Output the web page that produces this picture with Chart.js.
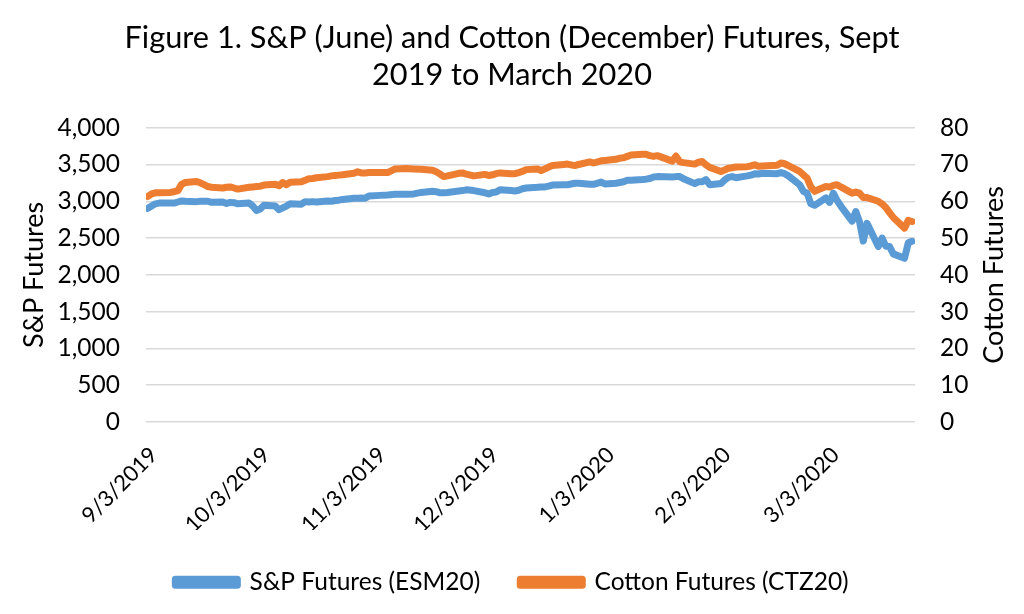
<!DOCTYPE html>
<html>
<head>
<meta charset="utf-8">
<title>S&amp;P and Cotton Futures</title>
<script src="https://cdn.jsdelivr.net/npm/chart.js@4.4.1/dist/chart.umd.min.js"></script>
<style>
  body { margin: 0; background: #fff; }
  #wrap { width: 1024px; height: 614px; }
</style>
</head>
<body>
<div id="wrap"><canvas id="chart" width="1024" height="614"></canvas></div>
<script>
// trading dates
const dates = [
  '9/3/2019','9/4/2019','9/5/2019','9/6/2019','9/9/2019','9/10/2019','9/11/2019','9/12/2019','9/13/2019',
  '9/16/2019','9/17/2019','9/18/2019','9/19/2019','9/20/2019','9/23/2019','9/24/2019','9/25/2019','9/26/2019',
  '9/27/2019','9/30/2019','10/1/2019','10/2/2019','10/3/2019','10/4/2019','10/7/2019','10/8/2019','10/9/2019',
  '10/10/2019','10/11/2019','10/14/2019','10/15/2019','10/16/2019','10/17/2019','10/18/2019','10/21/2019',
  '10/22/2019','10/23/2019','10/24/2019','10/25/2019','10/28/2019','10/29/2019','10/30/2019','10/31/2019',
  '11/1/2019','11/4/2019','11/6/2019','11/8/2019','11/11/2019','11/13/2019','11/15/2019','11/18/2019',
  '11/19/2019','11/20/2019','11/21/2019','11/22/2019','11/25/2019','11/26/2019','11/27/2019','11/29/2019',
  '12/2/2019','12/3/2019','12/4/2019','12/5/2019','12/6/2019','12/9/2019','12/10/2019','12/11/2019',
  '12/12/2019','12/13/2019','12/16/2019','12/17/2019','12/18/2019','12/19/2019','12/20/2019','12/23/2019',
  '12/24/2019','12/26/2019','12/27/2019','12/30/2019','12/31/2019','1/2/2020','1/3/2020','1/6/2020',
  '1/7/2020','1/8/2020','1/9/2020','1/10/2020','1/13/2020','1/14/2020','1/15/2020','1/16/2020','1/17/2020',
  '1/21/2020','1/22/2020','1/23/2020','1/24/2020','1/27/2020','1/28/2020','1/29/2020','1/30/2020','1/31/2020',
  '2/3/2020','2/4/2020','2/5/2020','2/6/2020','2/7/2020','2/10/2020','2/11/2020','2/12/2020','2/13/2020',
  '2/14/2020','2/18/2020','2/19/2020','2/20/2020','2/21/2020','2/24/2020','2/25/2020','2/26/2020',
  '2/27/2020','2/28/2020','3/2/2020','3/3/2020','3/4/2020','3/5/2020','3/6/2020','3/9/2020','3/10/2020',
  '3/11/2020','3/12/2020','3/13/2020','3/16/2020','3/17/2020','3/18/2020','3/19/2020','3/20/2020',
  '3/23/2020','3/24/2020','3/25/2020'
];

// S&P futures (ESM20)
const spValues = [
  2905, 2935, 2965, 2975, 2975, 2975, 2990, 3005, 3000,
  2995, 3000, 3000, 3000, 2985, 2990, 2970, 2985, 2980,
  2965, 2975, 2935, 2875, 2895, 2945, 2935, 2885, 2910,
  2935, 2965, 2960, 2995, 2990, 2995, 2990, 3005,
  3000, 3010, 3015, 3025, 3040, 3040, 3045, 3040,
  3070, 3080, 3085, 3095, 3095, 3100, 3120, 3135,
  3130, 3115, 3115, 3120, 3140, 3145, 3155, 3145,
  3115, 3100, 3120, 3125, 3155, 3145, 3140, 3150,
  3170, 3180, 3190, 3195, 3195, 3205, 3220, 3225,
  3225, 3245, 3245, 3230, 3230, 3260, 3235, 3245,
  3255, 3265, 3285, 3285, 3295, 3300, 3310, 3330, 3335,
  3330, 3335, 3335, 3305, 3240, 3265, 3265, 3295, 3225,
  3240, 3290, 3325, 3335, 3320, 3345, 3355, 3375, 3370,
  3380, 3375, 3390, 3375, 3345, 3225, 3135, 3110,
  2965, 2945, 3045, 2985, 3110, 3010, 2935, 2730, 2860,
  2720, 2460, 2700, 2385, 2500, 2390, 2385, 2285,
  2225, 2435, 2455
];

// Cotton futures (CTZ20)
const cottonValues = [
  61.3, 62.0, 62.3, 62.3, 62.4, 62.6, 62.9, 64.6, 65.1,
  65.4, 65.0, 64.5, 64.0, 63.8, 63.6, 63.8, 63.9, 63.6,
  63.3, 63.8, 63.9, 64.0, 64.1, 64.4, 64.6, 64.2, 65.1,
  64.5, 65.2, 65.3, 65.7, 66.1, 66.2, 66.4, 66.7,
  66.9, 67.0, 67.1, 67.2, 67.6, 68.0, 67.7, 67.7,
  67.8, 67.8, 67.8, 68.8, 68.9, 68.8, 68.7, 68.4,
  68.0, 67.4, 66.7, 66.9, 67.6, 67.7, 67.4, 66.9,
  67.3, 67.0, 67.2, 67.5, 67.7, 67.5, 67.5, 67.8,
  68.1, 68.6, 68.8, 68.3, 68.8, 69.3, 69.7, 70.0,
  70.1, 69.7, 70.0, 70.7, 70.4, 71.0, 71.1, 71.4,
  71.7, 71.8, 72.2, 72.6, 72.8, 72.8, 72.4, 72.2, 72.4,
  70.9, 72.3, 70.7, 70.5, 70.1, 70.6, 70.8, 69.9, 69.2,
  68.1, 68.5, 69.0, 69.1, 69.3, 69.4, 69.6, 69.9, 69.5,
  69.6, 69.8, 70.4, 70.2, 69.7, 68.1, 67.2, 66.3,
  63.9, 62.7, 64.0, 63.9, 64.3, 64.5, 63.9, 62.2, 62.5,
  62.2, 61.0, 61.0, 60.0, 59.3, 58.3, 56.9, 55.6,
  52.7, 54.8, 54.5
];

const tickDates = ['9/3/2019', '10/3/2019', '11/3/2019', '12/3/2019', '1/3/2020', '2/3/2020', '3/3/2020'];
const titleLines = ['Figure 1. S&P (June) and Cotton (December) Futures, Sept', '2019 to March 2020'];
const seriesNames = ['S&P Futures (ESM20)', 'Cotton Futures (CTZ20)'];
const seriesColors = ['#5B9BD5', '#ED7D31'];

const FONT = 'Lato';

function dayOffset(s) {
  const [m, d, y] = s.split('/').map(Number);
  return (Date.UTC(y, m - 1, d) - Date.UTC(2019, 8, 3)) / 86400000;
}

const spPoints = dates.map((d, i) => ({ x: dayOffset(d), y: spValues[i] }));
const cottonPoints = dates.map((d, i) => ({ x: dayOffset(d), y: cottonValues[i] }));

// right axis title reads bottom-to-top like the left one
const rightTitle = {
  id: 'rightTitle',
  afterDraw(chart) {
    const { ctx, chartArea } = chart;
    ctx.save();
    ctx.font = '27px ' + FONT;
    ctx.fillStyle = '#000';
    ctx.textAlign = 'center';
    ctx.textBaseline = 'middle';
    ctx.translate(994, (chartArea.top + chartArea.bottom) / 2);
    ctx.rotate(-Math.PI / 2);
    ctx.fillText('Cotton Futures', 0, 0);
    ctx.restore();
  }
};

// keep the legend band short so the plot keeps its height
const legendHeight = {
  id: 'legendHeight',
  beforeUpdate(chart) {
    const lg = chart.legend;
    if (lg && !lg._fixedFit) {
      const fit = lg.fit;
      lg.fit = function () { fit.call(this); this.height = 76; };
      lg._fixedFit = true;
    }
  }
};

new Chart(document.getElementById('chart'), {
  type: 'line',
  data: {
    datasets: [
      {
        label: seriesNames[0],
        data: spPoints,
        yAxisID: 'y',
        borderColor: seriesColors[0],
        backgroundColor: seriesColors[0],
        borderWidth: 7,
        pointRadius: 0,
        tension: 0,
        borderCapStyle: 'round',
        borderJoinStyle: 'round',
        order: 1
      },
      {
        label: seriesNames[1],
        data: cottonPoints,
        yAxisID: 'y2',
        borderColor: seriesColors[1],
        backgroundColor: seriesColors[1],
        borderWidth: 7,
        pointRadius: 0,
        tension: 0,
        borderCapStyle: 'round',
        borderJoinStyle: 'round',
        order: 0
      }
    ]
  },
  options: {
    responsive: false,
    animation: false,
    devicePixelRatio: 1,
    layout: { padding: { left: 0, right: 0, top: 0, bottom: 8 } },
    plugins: {
      title: {
        display: true,
        text: titleLines,
        color: '#000',
        font: { family: FONT, size: 30.7, weight: 'normal' },
        padding: { top: 20, bottom: 34 }
      },
      legend: {
        position: 'bottom',
        labels: {
          color: '#000',
          font: { family: FONT, size: 24.5 },
          boxWidth: 62,
          boxHeight: 6,
          padding: 40,
          sort: (a, b) => a.datasetIndex - b.datasetIndex
        }
      },
      tooltip: { enabled: false }
    },
    scales: {
      x: {
        type: 'linear',
        min: -0.5,
        max: 204.8,
        afterBuildTicks: s => { s.ticks = tickDates.map(d => ({ value: dayOffset(d) })); },
        afterFit: s => { s.height = 108; },
        ticks: {
          autoSkip: false,
          minRotation: 45,
          maxRotation: 45,
          labelOffset: 6,
          padding: 12,
          color: '#000',
          font: { family: FONT, size: 22 },
          callback: (v, i) => tickDates[i]
        },
        grid: { display: false },
        border: { display: false }
      },
      y: {
        position: 'left',
        min: 0,
        max: 4000,
        afterFit: s => { s.width = 146; },
        ticks: {
          stepSize: 500,
          padding: 26,
          color: '#000',
          font: { family: FONT, size: 24.5 },
          callback: v => v.toLocaleString('en-US')
        },
        grid: { color: '#d9d9d9', lineWidth: 1.5, drawTicks: false },
        border: { display: false },
        title: {
          display: true,
          text: 'S&P Futures',
          color: '#000',
          font: { family: FONT, size: 27 },
          padding: { top: 18, bottom: 0 }
        }
      },
      y2: {
        position: 'right',
        min: 0,
        max: 80,
        afterFit: s => { s.width = 109; },
        ticks: {
          stepSize: 10,
          padding: 25,
          color: '#000',
          font: { family: FONT, size: 24.5 }
        },
        grid: { drawOnChartArea: false, drawTicks: false },
        border: { display: false }
      }
    }
  },
  plugins: [rightTitle, legendHeight]
});
</script>
</body>
</html>
